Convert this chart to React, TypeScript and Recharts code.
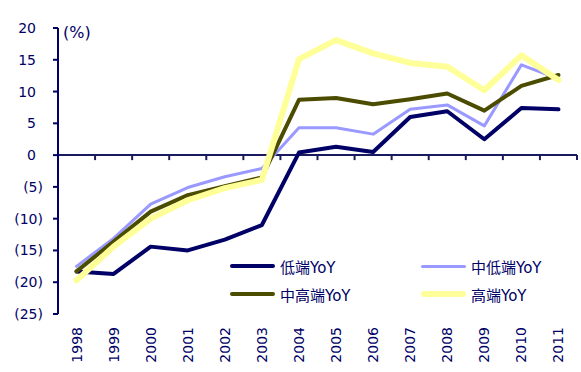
import React from 'react'
import { LineChart, Line, XAxis, YAxis, ReferenceLine } from 'recharts'

const years = ['1998', '1999', '2000', '2001', '2002', '2003', '2004', '2005', '2006', '2007', '2008', '2009', '2010', '2011']
const low = [-18.3, -18.7, -14.4, -15.0, -13.3, -11.0, 0.4, 1.3, 0.5, 6.0, 6.9, 2.5, 7.4, 7.2]
const midLow = [-17.5, -13.1, -7.7, -5.1, -3.4, -2.1, 4.3, 4.3, 3.3, 7.2, 7.9, 4.6, 14.2, 12.0]
const midHigh = [-18.3, -13.6, -8.9, -6.3, -4.9, -3.5, 8.7, 9.0, 8.0, 8.8, 9.7, 7.0, 10.9, 12.6]
const high = [-19.7, -14.4, -10.0, -7.1, -5.2, -3.9, 15.1, 18.1, 16.0, 14.5, 13.9, 10.2, 15.7, 11.8]
const yTicks = [-25, -20, -15, -10, -5, 0, 5, 10, 15, 20]

const series = [
  { key: 'low', name: '低端YoY', color: '#000066', width: 4 },
  { key: 'midLow', name: '中低端YoY', color: '#9999ff', width: 3 },
  { key: 'midHigh', name: '中高端YoY', color: '#4c4c00', width: 4 },
  { key: 'high', name: '高端YoY', color: '#ffff99', width: 6 },
]

const data = years.map((year, i) => ({
  idx: i,
  year,
  low: low[i],
  midLow: midLow[i],
  midHigh: midHigh[i],
  high: high[i],
}))

const FONT = '"DejaVu Sans", "Noto Sans CJK SC", sans-serif'
const NAVY = '#000066'

const YTick = (props: any) => {
  const { x, y, payload } = props
  const v = payload.value
  const label = v < 0 ? `(${Math.abs(v)})` : `${v}`
  return (
    <text x={v < 0 ? x - 10 : x - 17} y={y} dy="0.36em" textAnchor="end" fontSize={14} fill={NAVY} fontFamily={FONT}>
      {label}
    </text>
  )
}

const XTick = (props: any) => {
  const { x, y, payload } = props
  const ay = y + 13
  return (
    <text x={x} y={ay} dy="0.36em" textAnchor="end" transform={`rotate(-90 ${x} ${ay})`} fontSize={14} fill={NAVY} fontFamily={FONT}>
      {years[payload.value]}
    </text>
  )
}

const ZeroAxis = (props: any) => {
  const { x1, x2, y1 } = props
  const band = (x2 - x1) / years.length
  const ticks = years.map((_, k) => x1 + (k + 1) * band)
  return (
    <g>
      <line x1={x1} x2={x2} y1={y1} y2={y1} stroke="#1a1a5e" strokeWidth={2} />
      {ticks.map((tx, k) => (
        <line key={k} x1={tx} x2={tx} y1={y1} y2={y1 + 5} stroke="#1a1a5e" strokeWidth={2} />
      ))}
    </g>
  )
}

export default function App() {
  return (
    <div style={{ position: 'relative', width: 581, height: 372, fontFamily: FONT }}>
      <style>{'body{margin:0}'}</style>
      <LineChart width={581} height={372} data={data} margin={{ top: 28, right: 4, bottom: 0, left: 0 }}>
        <XAxis
          dataKey="idx"
          type="number"
          domain={[-0.5, 13.5]}
          ticks={years.map((_, i) => i)}
          axisLine={false}
          tickLine={false}
          tickSize={0}
          tickMargin={0}
          height={58}
          tick={<XTick />}
          interval={0}
        />
        <YAxis
          domain={[-25, 20]}
          ticks={yTicks}
          width={58}
          interval={0}
          axisLine={{ stroke: NAVY, strokeWidth: 2 }}
          tickLine={{ stroke: NAVY, strokeWidth: 2 }}
          tickSize={5}
          tickMargin={0}
          tick={<YTick />}
        />
        <ReferenceLine y={0} shape={<ZeroAxis />} />
        {series.map((s) => (
          <Line
            key={s.key}
            dataKey={s.key}
            name={s.name}
            stroke={s.color}
            strokeWidth={s.width}
            strokeLinecap="round"
            strokeLinejoin="round"
            dot={false}
            activeDot={false}
            isAnimationActive={false}
            type="linear"
          />
        ))}
      </LineChart>
      <div style={{ position: 'absolute', left: 63, top: 23, fontSize: 16, color: NAVY }}>(%)</div>
      <div style={{ position: 'absolute', left: 230, top: 256, width: 340 }}>
        {series.map((s, i) => (
          <div
            key={s.key}
            style={{
              position: 'absolute',
              left: i % 2 === 0 ? 0 : 191,
              top: i < 2 ? 0 : 28,
              display: 'flex',
              alignItems: 'center',
              height: 20,
              whiteSpace: 'nowrap',
            }}
          >
            <div style={{ width: 45, height: s.width, background: s.color, borderRadius: s.width / 2, marginRight: 5 }} />
            <span style={{ fontSize: 15, color: NAVY }}>{s.name}</span>
          </div>
        ))}
      </div>
    </div>
  )
}
